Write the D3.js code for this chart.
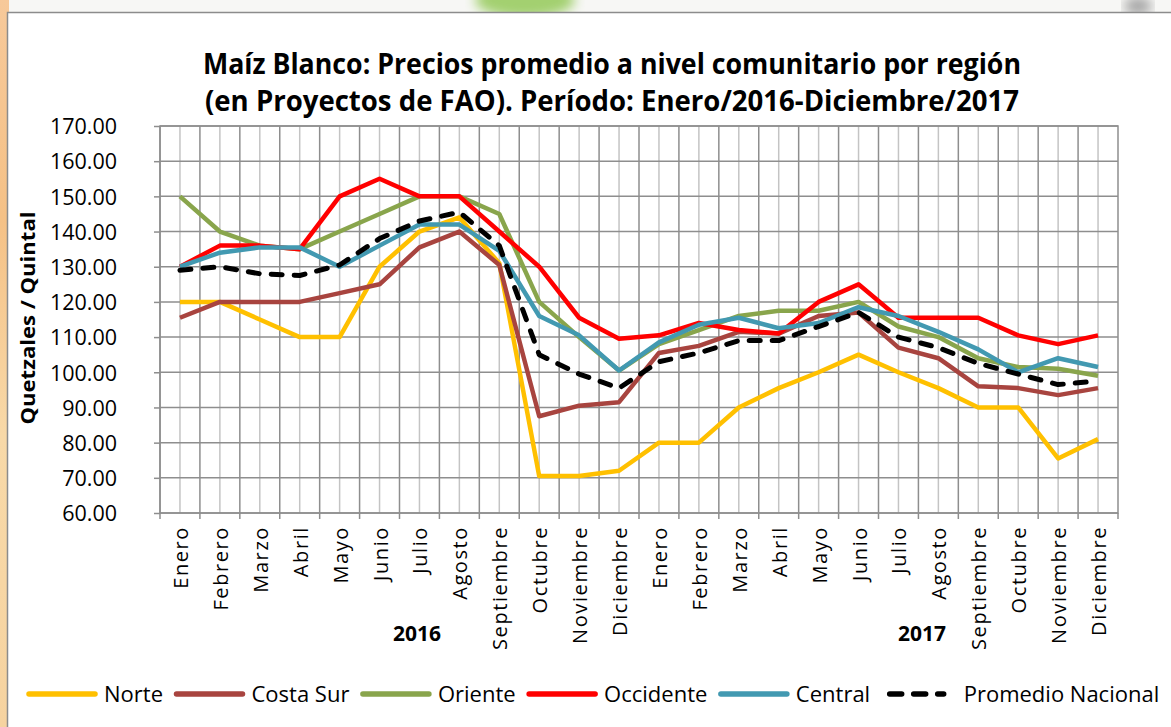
<!DOCTYPE html>
<html>
<head>
<meta charset="utf-8">
<script src="https://cdn.jsdelivr.net/npm/d3@7"></script>
<style>
  body { margin: 0; background: #ffffff; }
  svg { display: block; }
</style>
</head>
<body>
<div id="chart"></div>
<script>
// data
var months = ["Enero", "Febrero", "Marzo", "Abril", "Mayo", "Junio", "Julio", "Agosto", "Septiembre", "Octubre", "Noviembre", "Diciembre"];
var years = ["2016", "2017"];
var yTicks = [60, 70, 80, 90, 100, 110, 120, 130, 140, 150, 160, 170];

var norte      = [120, 120, 115, 110, 110, 130, 140, 144, 131, 70.5, 70.5, 72, 80, 80, 90, 95.5, 100, 105, 100, 95.5, 90, 90, 75.5, 81];
var costaSur   = [115.5, 120, 120, 120, 122.5, 125, 135.5, 140, 130.5, 87.5, 90.5, 91.5, 105.5, 107.5, 111.5, 111, 116, 117, 107, 104, 96, 95.5, 93.5, 95.5];
var oriente    = [150, 140, 136, 135, 140, 145, 150, 150, 145, 120, 110, 100.5, 108, 112, 116, 117.5, 117.5, 120, 113, 110, 104, 101.5, 101, 99];
var occidente  = [130, 136, 136, 135, 150, 155, 150, 150, 140, 130, 115.5, 109.5, 110.5, 114, 112, 111, 120, 125, 115.5, 115.5, 115.5, 110.5, 108, 110.5];
var central    = [130, 134, 135.5, 135.5, 130, 136, 142, 142, 134.5, 116, 110.5, 100.5, 108.5, 113.5, 115.5, 112.5, 114, 118.5, 116, 111.5, 106.5, 100, 104, 101.5];
var promedio   = [129, 130, 128, 127.5, 130.5, 138, 143, 145.5, 136, 105, 99.5, 95.5, 103, 105.5, 109, 109, 113, 117, 110, 107, 102.5, 99.5, 96.5, 97.5];

var seriesNames = ["Norte", "Costa Sur", "Oriente", "Occidente", "Central", "Promedio Nacional"];
var seriesValues = [norte, costaSur, oriente, occidente, central, promedio];
var seriesColors = ["#FFC000", "#A8443F", "#89A54C", "#FF0000", "#4299B1", "#000000"];

var svgWidth = 1171;
var svgHeight = 727;

var plot = { left: 160, right: 1118, top: 126, bottom: 513 };

var svg = d3.select("#chart")
  .append("svg")
  .attr("width", svgWidth)
  .attr("height", svgHeight);

// background picture behind the chart (blurred slide)
var defs = svg.append("defs");
var leftGrad = defs.append("linearGradient").attr("id", "leftGrad")
  .attr("x1", 0).attr("y1", 0).attr("x2", 0).attr("y2", 1);
leftGrad.append("stop").attr("offset", "0%").attr("stop-color", "#f7c99a");
leftGrad.append("stop").attr("offset", "30%").attr("stop-color", "#f5c186");
leftGrad.append("stop").attr("offset", "60%").attr("stop-color", "#f8d9a8");
leftGrad.append("stop").attr("offset", "100%").attr("stop-color", "#f6d3a0");
defs.append("filter").attr("id", "blur")
  .append("feGaussianBlur").attr("stdDeviation", 6);

svg.append("rect").attr("width", svgWidth).attr("height", svgHeight).attr("fill", "#f7f7f5");
svg.append("rect").attr("x", 0).attr("y", 0).attr("width", 9).attr("height", svgHeight).attr("fill", "url(#leftGrad)");
svg.append("ellipse").attr("cx", 525).attr("cy", 0).attr("rx", 50).attr("ry", 18)
  .attr("fill", "#a3d070").attr("filter", "url(#blur)");
svg.append("ellipse").attr("cx", 1138).attr("cy", 6).attr("rx", 14).attr("ry", 9)
  .attr("fill", "#a5a5a5").attr("filter", "url(#blur)");

// chart area
svg.append("rect")
  .attr("x", 7.5).attr("y", 12.5)
  .attr("width", svgWidth).attr("height", svgHeight)
  .attr("fill", "#ffffff")
  .attr("stroke", "#8c8c8c")
  .attr("stroke-width", 1.5);

// title
var titleLines = [
  "Maíz Blanco: Precios promedio a nivel comunitario por región",
  "(en Proyectos de FAO). Período: Enero/2016-Diciembre/2017"
];
svg.selectAll("text.title")
  .data(titleLines)
  .enter()
  .append("text")
  .attr("class", "title")
  .attr("x", 612)
  .attr("y", (d, i) => 74 + i * 37)
  .attr("text-anchor", "middle")
  .attr("textLength", (d, i) => i == 0 ? 818 : 814)
  .attr("lengthAdjust", "spacingAndGlyphs")
  .style("font-family", "'Liberation Sans Narrow', 'Open Sans', sans-serif")
  .style("font-weight", "bold")
  .style("font-size", "28px")
  .text(d => d);

// scales
var keys = [];
years.forEach(y => months.forEach(m => keys.push(y + "-" + m)));

var xBand = d3.scaleBand()
  .domain(keys)
  .range([plot.left, plot.right]);
var xCenter = k => xBand(k) + xBand.bandwidth() / 2;

var yLinearScale = d3.scaleLinear()
  .domain([60, 170])
  .range([plot.bottom, plot.top]);

// grid lines
var grid = svg.append("g");
grid.selectAll("line.vmid")
  .data(keys)
  .enter()
  .append("line")
  .attr("x1", d => xCenter(d)).attr("x2", d => xCenter(d))
  .attr("y1", plot.top).attr("y2", plot.bottom)
  .attr("stroke", "#c4c4c4").attr("stroke-width", 1.5);
grid.selectAll("line.vb")
  .data(keys)
  .enter()
  .append("line")
  .attr("x1", d => xBand(d)).attr("x2", d => xBand(d))
  .attr("y1", plot.top).attr("y2", plot.bottom)
  .attr("stroke", "#8e8e8e").attr("stroke-width", 1.5);
grid.selectAll("line.h")
  .data(yTicks)
  .enter()
  .append("line")
  .attr("x1", plot.left).attr("x2", plot.right)
  .attr("y1", d => yLinearScale(d)).attr("y2", d => yLinearScale(d))
  .attr("stroke", "#8e8e8e").attr("stroke-width", 1.5);
grid.append("rect")
  .attr("x", plot.left).attr("y", plot.top)
  .attr("width", plot.right - plot.left).attr("height", plot.bottom - plot.top)
  .attr("fill", "none").attr("stroke", "#8e8e8e").attr("stroke-width", 1.5);

// y axis
var yAxis = d3.axisLeft(yLinearScale)
  .tickValues(yTicks)
  .tickFormat(d3.format(".2f"))
  .tickSize(6)
  .tickPadding(38);
var yAxisG = svg.append("g")
  .attr("transform", `translate(${plot.left}, 0)`)
  .call(yAxis);
yAxisG.select(".domain").remove();
yAxisG.selectAll("line").attr("stroke", "#8e8e8e").attr("stroke-width", 1.5);
yAxisG.selectAll("text")
  .attr("x", -43)
  .attr("dy", "0.36em")
  .style("font-family", "'Open Sans', sans-serif")
  .style("font-size", "21.5px")
  .attr("fill", "#000");

svg.append("text")
  .attr("transform", "translate(35, 318) rotate(-90)")
  .attr("text-anchor", "middle")
  .attr("textLength", 213)
  .attr("lengthAdjust", "spacingAndGlyphs")
  .style("font-family", "'Open Sans', sans-serif")
  .style("font-weight", "bold")
  .style("font-size", "20px")
  .text("Quetzales / Quintal");

// x axis ticks at category boundaries
var xTicks = svg.append("g");
xTicks.selectAll("line")
  .data(keys.concat(["end"]))
  .enter()
  .append("line")
  .attr("x1", d => d == "end" ? plot.right : xBand(d))
  .attr("x2", d => d == "end" ? plot.right : xBand(d))
  .attr("y1", plot.bottom).attr("y2", plot.bottom + 6)
  .attr("stroke", "#8e8e8e").attr("stroke-width", 1.5);

svg.selectAll("text.month")
  .data(keys)
  .enter()
  .append("text")
  .attr("class", "month")
  .attr("transform", d => `translate(${xCenter(d) + 1}, 526) rotate(-90)`)
  .attr("text-anchor", "end")
  .attr("dy", "0.35em")
  .style("font-family", "'Open Sans', sans-serif")
  .style("font-size", "20px")
  .style("letter-spacing", "1.6px")
  .text(d => d.split("-")[1]);

var yearX = [417, 922];
svg.selectAll("text.year")
  .data(years)
  .enter()
  .append("text")
  .attr("class", "year")
  .attr("x", (d, i) => yearX[i])
  .attr("y", 641)
  .attr("text-anchor", "middle")
  .style("font-family", "'Open Sans', sans-serif")
  .style("font-weight", "bold")
  .style("font-size", "21px")
  .text(d => d);

// lines
var line = d3.line()
  .x((d, i) => xCenter(keys[i]))
  .y(d => yLinearScale(d));

svg.append("g")
  .selectAll("path")
  .data(seriesValues)
  .enter()
  .append("path")
  .attr("d", d => line(d))
  .attr("fill", "none")
  .attr("stroke", (d, i) => seriesColors[i])
  .attr("stroke-width", (d, i) => i == 5 ? 5 : 4.5)
  .attr("stroke-linejoin", "round")
  .attr("stroke-linecap", (d, i) => i == 5 ? "round" : "butt")
  .attr("stroke-dasharray", (d, i) => i == 5 ? "11,12" : null);

// legend
var legend = svg.append("g").attr("transform", "translate(0, 694)");
var lx = 27;
seriesNames.forEach(function(name, i) {
  var item = legend.append("g").attr("transform", `translate(${lx}, 0)`);
  var sample = item.append("line")
    .attr("x1", 2).attr("x2", 68)
    .attr("y1", 0).attr("y2", 0)
    .attr("stroke", seriesColors[i])
    .attr("stroke-width", 5.5)
    .attr("stroke-linecap", "round");
  if (i == 5) {
    sample.attr("x1", 8).attr("x2", 62).attr("stroke-dasharray", "12,12");
  }
  var t = item.append("text")
    .attr("x", i == 5 ? 82 : 77)
    .attr("dy", "0.35em")
    .style("font-family", "'Open Sans', sans-serif")
    .style("font-size", "22px")
    .text(name);
  lx += (i == 5 ? 82 : 77) + t.node().getComputedTextLength() + 11.5;
});
</script>
</body>
</html>
